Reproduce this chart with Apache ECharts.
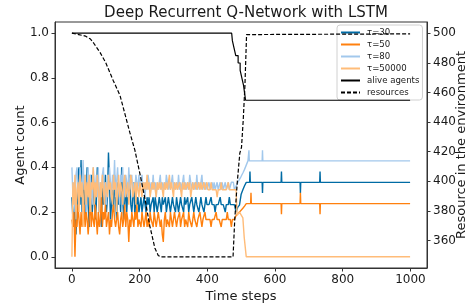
<!DOCTYPE html>
<html>
<head>
<meta charset="utf-8">
<script src="https://cdn.jsdelivr.net/npm/echarts@6/dist/echarts.min.js"></script>
<style>html,body{margin:0;padding:0;background:#fff}#c{width:473px;height:307px}</style>
</head>
<body>
<div id="c"></div>
<script>
// ---- data ----
const titleText = "Deep Recurrent Q-Network with LSTM";
const seriesNames = ["τ=30", "τ=50", "τ=80", "τ=50000", "alive agents", "resources"];
const seriesColors = ["#006BA4", "#FF800E", "#A2C8EC", "#FFBC79"];
const leftTicks = [0, 0.2, 0.4, 0.6, 0.8, 1.0];
const rightTicks = [360, 380, 400, 420, 440, 460, 480, 500];
const xTicks = [0, 200, 400, 600, 800, 1000];
const totalAgents = 30;

// early phase: sampled every 3 steps from 0 to 477, agent counts out of 30
const earlyStepStart = 0, earlyStepEvery = 3;
const tau30Early = [
  8,5,4,9,3,6,11,12,7,13,6,9,10,5,8,12,7,4,9,11,
  6,8,10,5,7,12,9,6,8,4,10,7,9,11,6,8,14,10,5,7,
  9,6,11,8,5,10,7,9,6,12,8,5,7,10,6,9,8,11,7,6,
  8,10,5,9,7,8,6,
  7,8,6,7,8,7,6,8,7,8,6,7,7,8,6,8,7,6,7,8,
  7,6,8,7,7,8,6,7,8,7,6,7,8,7,7,6,8,7,6,7,
  8,7,7,6,8,7,7,8,6,7,7,8,7,6,7,8,7,7,6,7,
  8,7,7,6,7,8,7,
  7,7,7,8,7,7,7,6,7,7,7,7,8,7,7,7,7,6,7,7,7,8,7,7,7,7];
const tau50Early = [
  5,4,6,0,5,4,7,5,3,6,4,5,7,4,6,5,3,5,8,4,
  6,5,4,7,5,3,6,4,5,9,4,6,5,7,4,5,6,3,5,4,
  6,7,5,4,5,6,4,3,5,6,4,5,7,4,6,5,2,5,4,6,
  5,4,6,5,7,4,5,
  5,4,6,5,4,5,6,4,5,4,6,5,5,4,6,5,4,5,6,5,
  4,5,3,2,5,6,4,5,5,4,6,5,4,5,6,5,4,5,5,6,
  4,5,5,6,4,5,5,4,6,5,5,4,5,6,5,5,4,5,5,6,
  5,4,5,5,6,5,5,
  5,5,5,4,5,5,5,5,6,5,5,5,5,4,5,5,5,5,5,6,5,5,5,4,5,5];
const tau80Early = [
  12,8,10,6,11,12,9,7,12,10,8,13,9,11,6,10,12,8,11,9,
  7,12,10,9,11,8,12,6,10,9,11,12,8,10,7,11,9,12,10,8,
  11,9,13,8,10,12,9,7,11,10,12,8,9,11,10,8,12,9,10,11,
  8,10,9,11,10,9,11,
  9,10,11,9,10,8,10,9,11,10,9,10,9,11,9,10,8,10,9,10,
  11,9,10,9,10,9,11,10,9,10,9,10,11,9,10,9,10,9,11,9,
  10,9,10,11,9,10,9,10,9,11,10,9,10,9,10,9,11,9,10,9,
  10,11,9,10,9,10,9,
  9,10,9,9,10,9,10,9,9,10,9,9,10,9,10,9,9,10,9,9,10,9,9,10,10,10];
const tau50000Early = [
  0,10,7,11,5,9,10,6,11,8,10,4,9,11,7,10,8,11,6,10,
  9,12,7,10,8,11,9,6,10,8,11,9,7,10,9,8,11,9,10,8,
  7,11,9,10,6,9,11,8,10,9,7,10,11,8,9,10,7,9,11,10,
  8,9,10,7,10,9,8,
  10,9,8,10,9,10,9,11,9,10,8,9,10,9,10,9,8,10,9,10,
  9,10,9,8,10,9,10,9,10,11,9,10,9,8,10,9,10,9,9,10,
  9,8,10,9,10,9,9,10,9,10,8,9,10,9,9,10,9,9,10,9,
  10,9,9,10,9,9,10,
  9,9,9,10,9,9,9,9,9,8,9,9,9,10,9,9,9,9,9,9,10,9,9,9,9,9];

// late phase: [step, fraction of alive agents]
const tau30Late = [[480,0.233],[485,0.2],[490,0.222],[495,0.231],[500,0.28],[505,0.3],[510,0.318],[515,0.333],[525,0.333],[526,0.381],[527,0.333],[562,0.333],[563,0.286],[564,0.333],[618,0.333],[619,0.381],[620,0.333],[674,0.333],[675,0.286],[676,0.333],[732,0.333],[733,0.381],[734,0.333],[999,0.333]];
const tau50Late = [[480,0.167],[485,0.185],[490,0.185],[495,0.2],[500,0.2],[505,0.217],[510,0.227],[515,0.238],[528,0.238],[529,0.286],[530,0.238],[618,0.238],[619,0.19],[620,0.238],[674,0.238],[675,0.286],[676,0.238],[732,0.238],[733,0.19],[734,0.238],[999,0.238]];
const tau80Late = [[480,0.3],[485,0.3],[490,0.333],[495,0.346],[500,0.36],[505,0.375],[510,0.391],[515,0.41],[520,0.429],[522,0.429],[523,0.476],[524,0.429],[562,0.429],[563,0.476],[564,0.429],[999,0.429]];
const tau50000Late = [[480,0.3],[485,0.3],[488,0.185],[495,0.2],[505,0.174],[509,0.087],[515,0.0],[999,0.0]];

// alive agents (count out of 30), step changes
const aliveSteps = [0,472,474,479,484,491,497,502,507,510,513,999];
const aliveCounts = [30,30,29,28,27,26,25,24,23,22,21,21];

// resources in the environment
const resSteps = [0,20,40,55,65,83,100,122,142,156,171,186,201,216,230,245,255,262,476,481,488,496,501,506,511,516,999];
const resVals = [500,499,498,496,493,487,480,468,458,446,433,421,405,388,370,355,350,349,349,374,398,419,423,441,464,499,499.5];

// ---- build ----
function earlyPairs(arr){ return arr.map((c,i)=>[earlyStepStart + i*earlyStepEvery, c/totalAgents]); }
const tauData = [
  earlyPairs(tau30Early).concat(tau30Late),
  earlyPairs(tau50Early).concat(tau50Late),
  earlyPairs(tau80Early).concat(tau80Late),
  earlyPairs(tau50000Early).concat(tau50000Late)
];
const aliveData = aliveSteps.map((s,i)=>[s, aliveCounts[i]/totalAgents]);
const resData = resSteps.map((s,i)=>[s, resVals[i]]);

const FONT = "DejaVu Sans";
const TXT = "#1a1a1a";
const AX = "#333";
const series = [];
tauData.forEach((d,i)=>{
  series.push({name: seriesNames[i], type:'line', data:d, yAxisIndex:0, symbol:'none', showSymbol:false,
    lineStyle:{color:seriesColors[i], width:1.4}, itemStyle:{color:seriesColors[i]}, animation:false, z:2+i});
});
series.push({name: seriesNames[4], type:'line', data:aliveData, yAxisIndex:0, symbol:'none', showSymbol:false, step:'end',
  lineStyle:{color:'#000', width:1.2}, itemStyle:{color:'#000'}, animation:false, z:7});
series.push({name: seriesNames[5], type:'line', data:resData, yAxisIndex:1, symbol:'none', showSymbol:false,
  lineStyle:{color:'#000', width:1.2, type:[4,2]}, itemStyle:{color:'#000'}, animation:false, z:8});

const chart = echarts.init(document.getElementById('c'), null, {renderer:'canvas'});
chart.setOption({
  backgroundColor:'#fff',
  animation:false,
  title:{text:titleText, left:'241', textAlign:'center', top:1, textStyle:{fontFamily:FONT, fontSize:15, fontWeight:'normal', color:TXT}},
  grid:{left:55, right:46, top:22, bottom:39, show:true, borderColor:AX, borderWidth:1, backgroundColor:'transparent',
    containLabel:false, outerBoundsMode:'none'},
  legend:{orient:'vertical', left:337, top:25, itemWidth:19, itemHeight:10, itemGap:3,
    padding:[3,3,3,3], backgroundColor:'rgba(255,255,255,0.8)', borderColor:'#d0d0d0', borderWidth:1, borderRadius:3,
    itemStyle:{opacity:0},
    textStyle:{fontFamily:FONT, fontSize:8.6, color:TXT, padding:[0,0,0,2]}, data:seriesNames},
  xAxis:{type:'value', min:-49.95, max:1048.95,
    name:'Time steps', nameLocation:'middle', nameGap:22, nameMoveOverlap:false, nameTextStyle:{fontFamily:FONT, fontSize:13, color:TXT},
    axisLine:{show:true, onZero:false, lineStyle:{color:AX, width:1}},
    axisTick:{show:true, length:3.5, lineStyle:{color:AX}, customValues:xTicks},
    axisLabel:{fontFamily:FONT, fontSize:12, color:TXT, margin:6, customValues:xTicks, formatter:v=>String(v)},
    splitLine:{show:false}},
  yAxis:[
    {type:'value', min:-0.05, max:1.05, position:'left',
      name:'Agent count', nameLocation:'middle', nameGap:28, nameMoveOverlap:false, nameRotate:90, nameTextStyle:{fontFamily:FONT, fontSize:13, color:TXT},
      axisLine:{show:true, onZero:false, lineStyle:{color:AX, width:1}},
      axisTick:{show:true, length:3.5, lineStyle:{color:AX}, customValues:leftTicks},
      axisLabel:{fontFamily:FONT, fontSize:12, color:TXT, margin:6, customValues:leftTicks, formatter:v=>v.toFixed(1)},
      splitLine:{show:false}},
    {type:'value', min:341.5, max:507.5, position:'right',
      name:'Resource in the environment', nameLocation:'middle', nameGap:28, nameMoveOverlap:false, nameRotate:90, nameTextStyle:{fontFamily:FONT, fontSize:13, color:TXT},
      axisLine:{show:true, onZero:false, lineStyle:{color:AX, width:1}},
      axisTick:{show:true, length:3.5, lineStyle:{color:AX}, customValues:rightTicks},
      axisLabel:{fontFamily:FONT, fontSize:12, color:TXT, margin:6, customValues:rightTicks, formatter:v=>String(v)},
      splitLine:{show:false}}
  ],
  series:series
});
</script>
</body>
</html>
